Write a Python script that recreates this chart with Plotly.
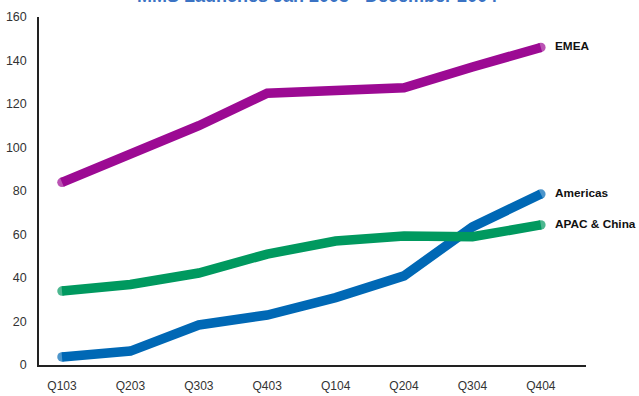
import plotly.graph_objects as go

quarters = ["Q103", "Q203", "Q303", "Q403", "Q104", "Q204", "Q304", "Q404"]
emea = [84, 96.5, 110, 125, 126, 127.5, 137, 146]
americas = [3.7, 6.4, 18.4, 23, 31, 41, 63.5, 78.6]
apac = [34, 37, 42.3, 51, 57, 59.3, 59, 64.4]
series_names = ["EMEA", "Americas", "APAC & China"]
colors = ["#9C0A93", "#0068B5", "#00995F"]
y_ticks = [0, 20, 40, 60, 80, 100, 120, 140, 160]
title_text = "MMS Launches Jan 2003 - December 2004"

fig = go.Figure()
n = len(quarters)
for name, vals, col in zip(series_names, [emea, americas, apac], colors):
    fig.add_trace(go.Scatter(
        x=quarters, y=vals, mode="lines+markers", name=name,
        line=dict(color=col, width=9.5),
        marker=dict(color=col, size=[9.5] + [0] * (n - 2) + [9.5], line=dict(width=0)),
        showlegend=False, hoverinfo="skip",
    ))
    fig.add_annotation(x=quarters[-1], y=vals[-1], text="<b>" + name + "</b>",
                       xanchor="left", yanchor="middle", xshift=12, yshift=1,
                       showarrow=False,
                       font=dict(family="Liberation Sans, Arial", size=11.8, color="#111"))

fig.add_annotation(xref="paper", yref="paper", x=0.508, y=1, yshift=21,
                   xanchor="center", yanchor="middle", showarrow=False,
                   text="<b>" + title_text + "</b>",
                   font=dict(family="Liberation Sans, Arial", size=18, color="#3B73C4"))

fig.update_layout(
    width=639, height=396,
    margin=dict(l=39, r=53, t=17, b=31),
    paper_bgcolor="white", plot_bgcolor="white",
    font=dict(family="Liberation Sans, Arial", size=12, color="#333"),
)
fig.update_xaxes(type="category", range=[-0.336, 7.66], showgrid=False, automargin=False,
                 showline=True, linecolor="#222", linewidth=1.5, ticks="",
                 ticklabelstandoff=9, tickfont=dict(size=12, color="#333"))
fig.update_yaxes(range=[0, 160], tickvals=y_ticks, showgrid=False, zeroline=False,
                 automargin=False,
                 showline=True, linecolor="#222", linewidth=1.5, ticks="",
                 ticklabelstandoff=8, tickfont=dict(size=12.5, color="#333"))

fig.write_html("out.html", config={"displayModeBar": False},
               post_script="document.body.style.margin='0';document.body.style.overflow='hidden';")
